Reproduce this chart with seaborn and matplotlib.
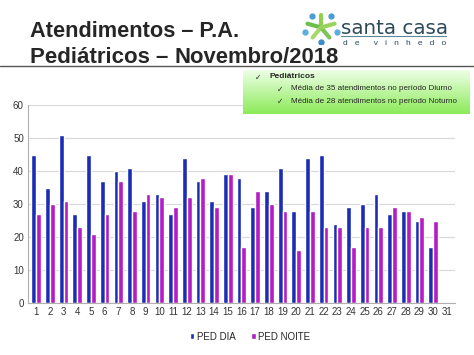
import numpy as np
import pandas as pd
import matplotlib
matplotlib.use("Agg")
import matplotlib.pyplot as plt
import seaborn as sns

# dados (dia 31 sem registro)
dias = [str(d) for d in range(1, 32)]
ped_dia = [45, 35, 51, 27, 45, 37, 40, 41, 31, 33, 27, 44, 37, 31, 39,
           38, 29, 34, 41, 28, 44, 45, 24, 29, 30, 33, 27, 28, 25, 17, np.nan]
ped_noite = [27, 30, 31, 23, 21, 27, 37, 28, 33, 32, 29, 32, 38, 29, 39,
             17, 34, 30, 28, 16, 28, 23, 23, 17, 23, 23, 29, 28, 26, 25, np.nan]
series = ["PED DIA", "PED NOITE"]
cores = ["#1a2db4", "#b41cc4"]


def main():
    df = pd.DataFrame({"dia": dias * 2,
                       "valor": ped_dia + ped_noite,
                       "serie": [series[0]] * 31 + [series[1]] * 31})

    sns.set_style("white")
    plt.rcParams['font.family'] = ['Liberation Sans', 'DejaVu Sans']

    fig = plt.figure(figsize=(4.74, 3.55), dpi=100)
    W, H = 474, 355

    ax = fig.add_axes([28 / W, 1 - 303 / H, (455 - 28) / W, (303 - 105) / H])
    sns.barplot(data=df, x="dia", y="valor", hue="serie", palette=cores,
                width=0.7, saturation=1, ax=ax, legend=True)
    ax.set_ylim(0, 60)
    ax.set_yticks(range(0, 61, 10))
    ax.set_xlim(-0.6, 30.6)
    ax.yaxis.grid(True, color="#d8d8d8", lw=0.8)
    ax.set_axisbelow(True)
    ax.set_xlabel("")
    ax.set_ylabel("")
    ax.tick_params(labelsize=7, colors="#333333", length=0, pad=3)
    for s in ["top", "right"]:
        ax.spines[s].set_visible(False)
    for s in ["left", "bottom"]:
        ax.spines[s].set_color("#b0b0b0")
        ax.spines[s].set_linewidth(0.8)

    ax.legend(loc="upper center", bbox_to_anchor=(0.52, -0.1), ncol=2,
              frameon=False, fontsize=7, handlelength=0.5,
              handleheight=0.5, handletextpad=0.3, columnspacing=1.5)

    # titulo
    fig.text(30 / W, 1 - 37 / H, "Atendimentos – P.A.", fontsize=15.7,
             fontweight="bold", va="baseline", ha="left")
    fig.text(30 / W, 1 - 63 / H, "Pediátricos –", fontsize=16,
             fontweight="bold", va="baseline", ha="left")
    fig.text(174 / W, 1 - 63 / H, "Novembro/2018", fontsize=15.8,
             fontweight="bold", va="baseline", ha="left")

    # linha separadora
    fig.add_artist(plt.Line2D([0, 1], [1 - 66 / H, 1 - 66 / H],
                              color="#555555", lw=1.0))

    # logo
    lax = fig.add_axes([302 / W, 1 - 44 / H, 38 / W, 33 / H])
    lax.set_xlim(-1.2, 1.2)
    lax.set_ylim(-1.2, 1.2)
    lax.axis("off")
    ang = np.linspace(np.pi / 2, np.pi / 2 + 2 * np.pi, 6)[:-1]
    for i, a in enumerate(ang):
        lax.plot([0, 0.9 * np.cos(a)], [0, 0.9 * np.sin(a)],
                 color=["#8fd14f", "#6cc04a", "#a6d96a", "#7cc35a", "#98d35e"][i],
                 lw=3, solid_capstyle="round")
        lax.plot(1.05 * np.cos(a + 0.6), 1.05 * np.sin(a + 0.6), "o",
                 color=["#4a9bd4", "#5aaee0", "#3c8cc8", "#5aaee0", "#4a9bd4"][i],
                 ms=3.5)
    fig.text(341 / W, 1 - 34 / H, "santa casa", fontsize=14.3, color="#2c4a5a",
             va="baseline", ha="left", family=["DejaVu Sans"])
    fig.add_artist(plt.Line2D([341 / W, 446 / W], [1 - 36 / H, 1 - 36 / H],
                              color="#5a8a9a", lw=0.8))
    fig.text(343 / W, 1 - 45 / H, "d   e      v   i   n   h   e   d   o",
             fontsize=6, color="#2c4a5a", va="baseline", ha="left")

    # caixa verde com gradiente
    gax = fig.add_axes([243 / W, 1 - 114 / H, (470 - 243) / W, (114 - 70) / H])
    grad = np.linspace(0, 1, 64).reshape(-1, 1)
    top = np.array([0.93, 1.0, 0.90])
    bot = np.array([0.55, 0.92, 0.35])
    img = top + (bot - top) * grad[:, :, None]
    gax.imshow(img, aspect="auto", extent=[0, 1, 0, 1], origin="upper")
    gax.axis("off")
    fig.text(255 / W, 1 - 77 / H, "✓", fontsize=5.5, va="center",
             family=["DejaVu Sans"])
    fig.text(270 / W, 1 - 77 / H, "Pediátricos", fontsize=6, fontweight="bold",
             va="center")
    linhas = ["Média de 35 atendimentos no período Diurno",
              "Média de 28 atendimentos no período Noturno"]
    for i, t in enumerate(linhas):
        y = 1 - (89 + 12 * i) / H
        fig.text(277 / W, y, "✓", fontsize=5.5, va="center",
                 family=["DejaVu Sans"])
        fig.text(291 / W, y, t, fontsize=5.8, va="center")

    fig.savefig("out.png", dpi=100)


if __name__ == "__main__":
    main()
